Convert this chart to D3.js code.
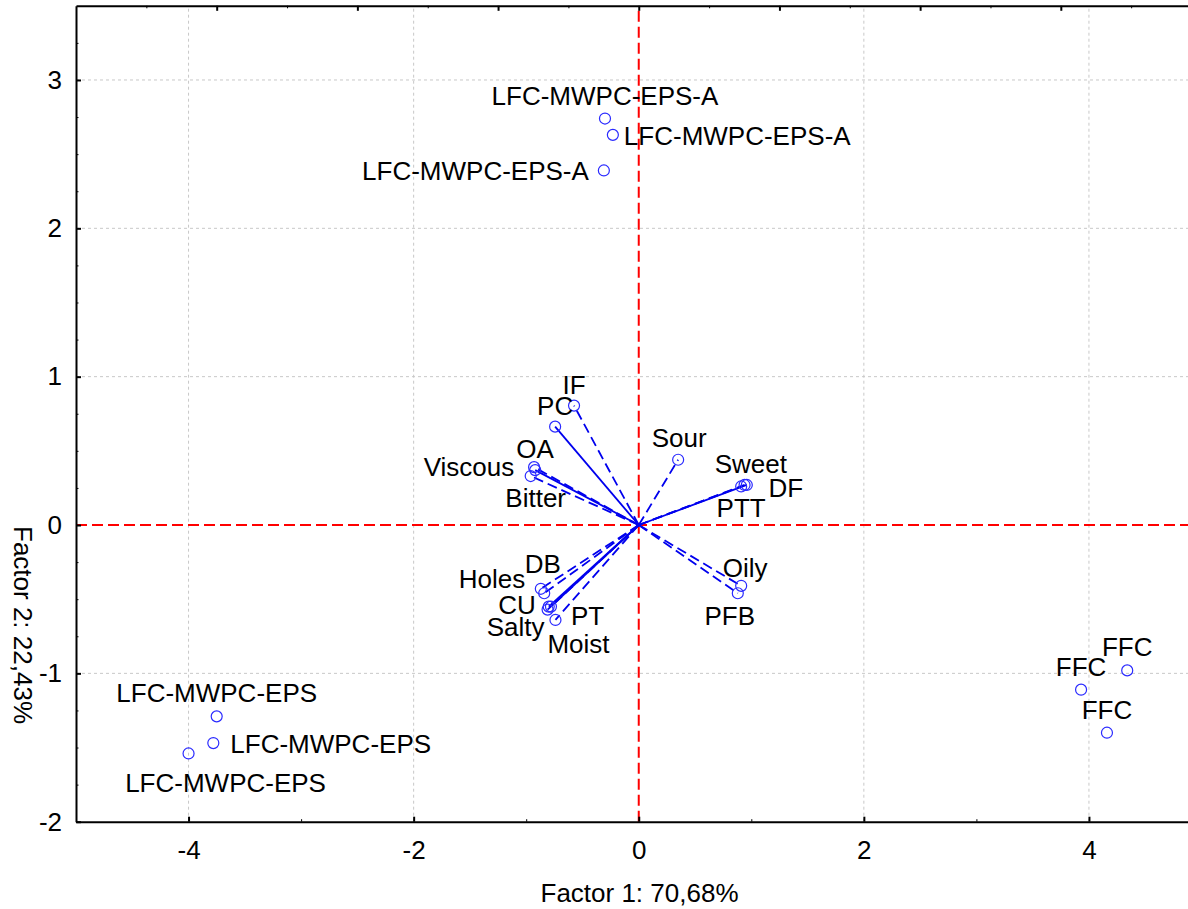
<!DOCTYPE html>
<html>
<head>
<meta charset="utf-8">
<script src="https://cdn.jsdelivr.net/npm/d3@7"></script>
<style>
	body { margin: 0; background: #fff; }
	svg { display: block; font-family: "Liberation Sans", Arial, sans-serif; }
	.axis path, .axis line { stroke: #000; }
	.axis text { font-size: 26px; fill: #000; }
</style>
</head>
<body>
<div id="chart"></div>
<script>
// cases (factor scores)
var obsNames = ["LFC-MWPC-EPS-A", "LFC-MWPC-EPS-A", "LFC-MWPC-EPS-A",
	"LFC-MWPC-EPS", "LFC-MWPC-EPS", "LFC-MWPC-EPS",
	"FFC", "FFC", "FFC"];
var obsF1 = [-0.30, -0.23, -0.31, -3.75, -3.78, -4.00, 4.34, 3.93, 4.16];
var obsF2 = [2.74, 2.63, 2.39, -1.29, -1.47, -1.54, -0.98, -1.11, -1.40];

// variables (projected loadings)
var varNames = ["IF", "PC", "OA", "Viscous", "Bitter", "Sour", "Sweet", "DF", "PTT",
	"Oily", "PFB", "DB", "Holes", "CU", "Salty", "PT", "Moist"];
var varF1 = [-0.575, -0.743, -0.93, -0.92, -0.96, 0.35, 0.96, 0.94, 0.91,
	0.91, 0.88, -0.87, -0.84, -0.80, -0.81, -0.78, -0.74];
var varF2 = [0.805, 0.663, 0.39, 0.37, 0.33, 0.44, 0.27, 0.27, 0.26,
	-0.41, -0.46, -0.43, -0.46, -0.55, -0.57, -0.55, -0.64];
var varSolid = [false, true, false, true, false, false, true, false, false,
	false, false, false, false, true, true, false, false];

var xTicks = [-4, -2, 0, 2, 4];
var xMinor = [-3, -1, 1, 3];
var yTicks = [-2, -1, 0, 1, 2, 3];
var xTitle = "Factor 1: 70,68%";
var yTitle = "Factor 2: 22,43%";

// label placement [dx, dy, anchor] relative to the marker
var obsLabelPos = [[0, -14, "middle"], [11, 10, "start"], [-15, 10, "end"],
	[0, -14, "middle"], [17, 10, "start"], [37, 39, "middle"],
	[0, -14, "middle"], [0, -14, "middle"], [0, -14, "middle"]];
var varLabelPos = [[0, -12, "middle"], [0, -12, "middle"], [1, -9, "middle"],
	[-21, 6, "end"], [5, 31, "middle"], [1, -13, "middle"], [4, -12, "middle"],
	[24, 12, "start"], [0, 31, "middle"], [4, -9, "middle"], [-8, 32, "middle"],
	[2, -16, "middle"], [-19, -5, "end"], [-13, 7, "end"], [-3, 26, "end"],
	[20, 18, "start"], [23, 33, "middle"]];

var W = 1188, H = 909;
var svg = d3.select("#chart").append("svg")
	.attr("width", W)
	.attr("height", H);

var x = d3.scaleLinear().domain([-5, 5]).range([76, 1201.5]),
	xTop = d3.scaleLinear().domain([-2, 2]).range(x.range()),
	y = d3.scaleLinear().domain([-2, 3.5]).range([821.7, 5.8]);

// plain hyphen for negatives, like the original
var fmt = function (d) { return String(d); };

var plot = svg.append("g");

// grid
plot.selectAll(".vgrid")
	.data(xTicks.filter(function (d) { return d !== 0; }))
	.enter().append("line")
	.attr("x1", function (d) { return x(d); })
	.attr("x2", function (d) { return x(d); })
	.attr("y1", y.range()[0])
	.attr("y2", y.range()[1])
	.attr("stroke", "#c8c8c8")
	.attr("stroke-dasharray", "3,3");

plot.selectAll(".hgrid")
	.data(yTicks.filter(function (d) { return d !== 0 && d !== -2; }))
	.enter().append("line")
	.attr("x1", x.range()[0])
	.attr("x2", x.range()[1])
	.attr("y1", function (d) { return y(d); })
	.attr("y2", function (d) { return y(d); })
	.attr("stroke", "#c8c8c8")
	.attr("stroke-dasharray", "3,3");

// zero lines
plot.append("line")
	.attr("x1", x(0)).attr("x2", x(0))
	.attr("y1", y.range()[0]).attr("y2", y.range()[1])
	.attr("stroke", "#ff0000").attr("stroke-width", 2)
	.attr("stroke-dasharray", "11,5");
plot.append("line")
	.attr("x1", x.range()[0]).attr("x2", x.range()[1])
	.attr("y1", y(0)).attr("y2", y(0))
	.attr("stroke", "#ff0000").attr("stroke-width", 2)
	.attr("stroke-dasharray", "11,5");

// vectors
var vars = varNames.map(function (n, i) {
	return { name: n, f1: varF1[i], f2: varF2[i], solid: varSolid[i], pos: varLabelPos[i] };
});
var obs = obsNames.map(function (n, i) {
	return { name: n, f1: obsF1[i], f2: obsF2[i], pos: obsLabelPos[i] };
});

plot.selectAll(".vec")
	.data(vars)
	.enter().append("line")
	.attr("x1", x(0))
	.attr("y1", y(0))
	.attr("x2", function (d) { return x(d.f1); })
	.attr("y2", function (d) { return y(d.f2); })
	.attr("stroke", "#0000ee")
	.attr("stroke-width", 1.8)
	.attr("stroke-dasharray", function (d) { return d.solid ? null : "10,5"; });

var all = vars.concat(obs);

plot.selectAll(".pt")
	.data(all)
	.enter().append("circle")
	.attr("cx", function (d) { return x(d.f1); })
	.attr("cy", function (d) { return y(d.f2); })
	.attr("r", 5.5)
	.attr("fill", "none")
	.attr("stroke", "#2a2aff")
	.attr("stroke-width", 1.2);

plot.selectAll(".lbl")
	.data(all)
	.enter().append("text")
	.attr("x", function (d) { return x(d.f1) + d.pos[0]; })
	.attr("y", function (d) { return y(d.f2) + d.pos[1]; })
	.attr("text-anchor", function (d) { return d.pos[2]; })
	.attr("font-size", "26px")
	.text(function (d) { return d.name; });

// axes
var xAxis = d3.axisBottom(x).tickValues(xTicks).tickSize(-5).tickSizeOuter(0).tickPadding(19)
	.tickFormat(fmt);
svg.append("g")
	.attr("class", "axis")
	.attr("transform", "translate(0," + y.range()[0] + ")")
	.call(xAxis)
	.call(function (g) { g.select(".domain").attr("stroke-width", 2); })
	.call(function (g) { g.selectAll(".tick line").attr("stroke-width", 2); });
svg.append("g")
	.attr("class", "axis")
	.attr("transform", "translate(0," + y.range()[0] + ")")
	.call(d3.axisBottom(x).tickValues(xMinor).tickSize(-2.5).tickFormat(""))
	.call(function (g) { g.select(".domain").remove(); });

var yAxis = d3.axisLeft(y).tickValues(yTicks).tickSize(-5).tickSizeOuter(0).tickPadding(14)
	.tickFormat(fmt);
svg.append("g")
	.attr("class", "axis")
	.attr("transform", "translate(" + x.range()[0] + ",0)")
	.call(yAxis)
	.call(function (g) { g.select(".domain").attr("stroke-width", 2); })
	.call(function (g) { g.selectAll(".tick line").attr("stroke-width", 2); });
svg.append("g")
	.attr("class", "axis")
	.attr("transform", "translate(" + x.range()[0] + ",0)")
	.call(d3.axisLeft(y).tickValues(d3.range(-1.75, 3.5, 0.25).filter(function (d) { return d % 1 !== 0; }))
		.tickSize(-2.5).tickFormat(""))
	.call(function (g) { g.select(".domain").remove(); });

// top axis (loading scale, no labels)
svg.append("g")
	.attr("class", "axis")
	.attr("transform", "translate(0," + y.range()[1] + ")")
	.call(d3.axisTop(xTop).tickValues(d3.range(-1.5, 2, 0.5)).tickSize(-5).tickSizeOuter(0).tickFormat(""))
	.call(function (g) { g.select(".domain").attr("stroke-width", 2); })
	.call(function (g) { g.selectAll(".tick line").attr("stroke-width", 2); });
svg.append("g")
	.attr("class", "axis")
	.attr("transform", "translate(0," + y.range()[1] + ")")
	.call(d3.axisTop(xTop).tickValues([-1.75, -1.25, -0.75, -0.25, 0.25, 0.75, 1.25, 1.75]).tickSize(-2.5).tickFormat(""))
	.call(function (g) { g.select(".domain").remove(); });

// titles
svg.append("text")
	.attr("x", 639.5)
	.attr("y", 902)
	.attr("text-anchor", "middle")
	.attr("font-size", "26px")
	.text(xTitle);

svg.append("text")
	.attr("transform", "translate(14,625) rotate(90)")
	.attr("text-anchor", "middle")
	.attr("font-size", "26px")
	.text(yTitle);
</script>
</body>
</html>
